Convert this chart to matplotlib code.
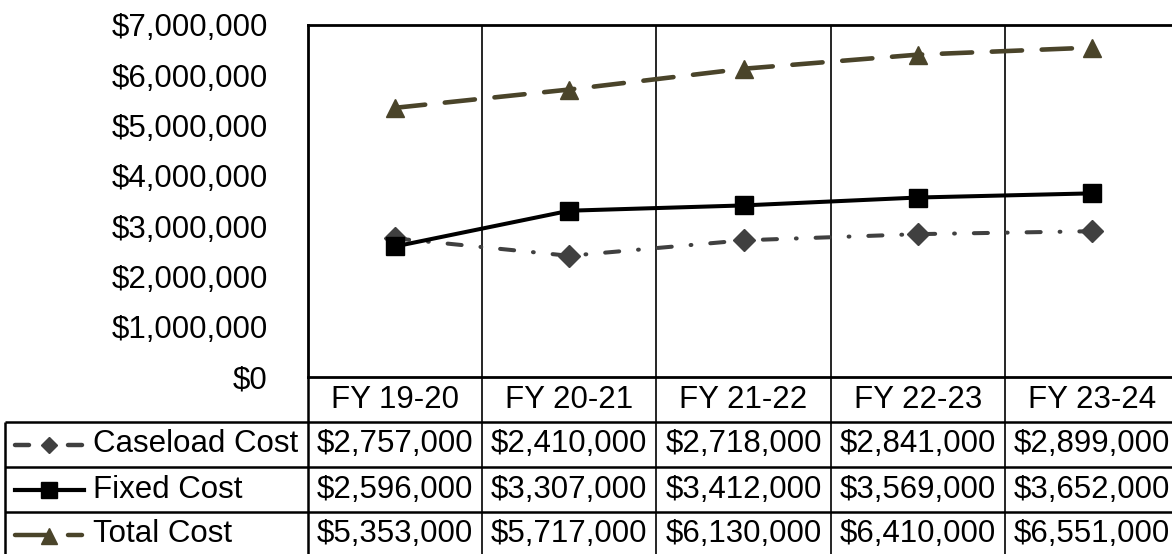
import matplotlib
matplotlib.use("Agg")
import matplotlib.pyplot as plt
from matplotlib.ticker import FuncFormatter

plt.rcParams['font.family'] = ['Liberation Sans', 'DejaVu Sans']

# Fiscal years and cost series
years = ["FY 19-20", "FY 20-21", "FY 21-22", "FY 22-23", "FY 23-24"]
caseload_cost = [2757000, 2410000, 2718000, 2841000, 2899000]
fixed_cost = [2596000, 3307000, 3412000, 3569000, 3652000]
total_cost = [5353000, 5717000, 6130000, 6410000, 6551000]
series_names = ["Caseload Cost", "Fixed Cost", "Total Cost"]

W, H = 1172, 554
FS = 22.5
GRAY = "#404040"
OLIVE = "#4A442A"

fig = plt.figure(figsize=(W / 100, H / 100), dpi=100)

# plot area in pixel terms
px_left, px_top, px_bottom = 308, 25, 377
col_w = 174.2
px_right = px_left + col_w * len(years)
ax = fig.add_axes([px_left / W, (H - px_bottom) / H,
                   (px_right - px_left) / W, (px_bottom - px_top) / H])

xs = [i + 0.5 for i in range(len(years))]
styles = {
    "Caseload Cost": dict(color=GRAY, lw=2.9, ls=(0, (3.5, 4.7, 0.2, 4.7)),
                          marker="D", ms=11.5, dash_capstyle="round"),
    "Fixed Cost": dict(color="black", lw=2.9, ls="-", marker="s", ms=12.5),
    "Total Cost": dict(color=OLIVE, lw=3.3, ls=(0, (6.6, 4.3)), marker="^",
                       ms=13, dash_capstyle="round"),
}
values = {"Caseload Cost": caseload_cost, "Fixed Cost": fixed_cost,
          "Total Cost": total_cost}
for name in series_names:
    ax.plot(xs, values[name], **styles[name], zorder=3)

ax.set_xlim(0, len(years))
ax.set_ylim(0, 7000000)
ax.set_yticks(range(0, 7000001, 1000000))
ax.yaxis.set_major_formatter(FuncFormatter(lambda v, p: f"${v:,.0f}"))
ax.tick_params(axis="y", length=0, pad=29, labelsize=FS)
ax.set_xticks([])
for i in range(1, len(years)):
    ax.axvline(i, color="black", lw=1.2, zorder=1)
for s in ["left", "top", "bottom"]:
    ax.spines[s].set_linewidth(2)
ax.spines["right"].set_visible(False)

# data table below the plot, drawn in pixel coordinates
tab = fig.add_axes([0, 0, 1, 1])
tab.set_xlim(0, W)
tab.set_ylim(H, 0)
tab.axis("off")
tab.patch.set_alpha(0)

row_h = 45
tab_left = 5
rows_top = px_bottom + row_h
col_edges = [px_left + col_w * i for i in range(len(years) + 1)]
line_kw = dict(color="black", lw=1.8, solid_capstyle="butt")

# category header row
for i, y in enumerate(years):
    tab.text((col_edges[i] + col_edges[i + 1]) / 2, px_bottom + row_h / 2, y,
             ha="center", va="center", fontsize=FS)
for x in col_edges[1:-1]:
    tab.plot([x, x], [px_bottom, rows_top + 3 * row_h], color="black", lw=1.2)
tab.plot([px_left, px_left], [px_bottom, rows_top + 3 * row_h], **line_kw)

# horizontal row borders
for k in range(4):
    yk = rows_top + k * row_h
    tab.plot([tab_left, W], [yk, yk], **line_kw)
tab.plot([tab_left, tab_left], [rows_top, rows_top + 3 * row_h], **line_kw)

# series rows with legend keys
for r, name in enumerate(series_names):
    yc = rows_top + r * row_h + row_h / 2
    if name == "Caseload Cost":
        tab.plot([15, 29], [yc, yc], color=GRAY, lw=3.2, solid_capstyle="round")
        tab.plot([68, 82], [yc, yc], color=GRAY, lw=3.2, solid_capstyle="round")
        tab.plot([49], [yc], marker="D", ms=8, color=GRAY)
    elif name == "Fixed Cost":
        tab.plot([15, 84], [yc, yc], color="black", lw=3.0)
        tab.plot([49], [yc], marker="s", ms=11, color="black")
    else:
        tab.plot([15, 47], [yc, yc], color=OLIVE, lw=3.2, solid_capstyle="round")
        tab.plot([68, 82], [yc, yc], color=OLIVE, lw=3.2, solid_capstyle="round")
        tab.plot([49], [yc + 1], marker="^", ms=11.5, color=OLIVE)
    tab.text(93, yc, name, ha="left", va="center", fontsize=FS)
    for i, v in enumerate(values[name]):
        tab.text((col_edges[i] + col_edges[i + 1]) / 2, yc, f"${v:,.0f}",
                 ha="center", va="center", fontsize=FS)

fig.savefig("out.png", dpi=100)
